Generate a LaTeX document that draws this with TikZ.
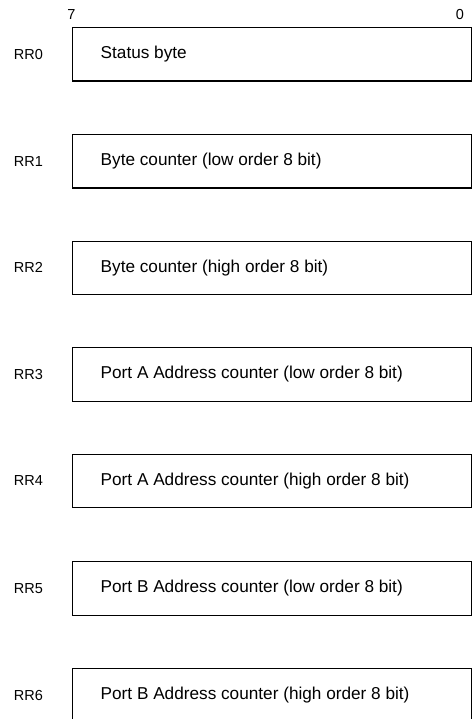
\documentclass[tikz,border=0pt]{standalone}
\usepackage{fontspec}
\setmainfont{Liberation Sans}
\begin{document}
\begin{tikzpicture}[x=1pt,y=-1pt,
  regbox/.style={draw=black,line width=1.2pt,rectangle,minimum width=399pt,minimum height=53.5pt,anchor=north west,inner sep=0pt},
  regtext/.style={anchor=west,inner sep=0pt,font=\fontsize{17.2}{20}\selectfont},
  reglabel/.style={anchor=center,inner sep=0pt,font=\fontsize{14.5}{16}\selectfont},
  bitlabel/.style={anchor=center,inner sep=0pt,font=\fontsize{14.5}{16}\selectfont}]
\clip (0,0) rectangle (472,719);
\fill[white] (0,0) rectangle (472,719);
\node[bitlabel] (b7) at (71.5,15) {7};
\node[bitlabel] (b0) at (460,15) {0};
\foreach \i/\t/\txt in {0/27/Status byte,
  1/134/Byte counter (low order 8 bit),
  2/240.5/Byte counter (high order 8 bit),
  3/347/Port A Address counter (low order 8 bit),
  4/453.5/Port A Address counter (high order 8 bit),
  5/561/Port B Address counter (low order 8 bit),
  6/668/Port B Address counter (high order 8 bit)}{
  \node[regbox] (r\i) at (71.5,\t) {};
  \node[regtext] (t\i) at ([xshift=29pt]r\i.west) {\txt};
  \node[reglabel] (l\i) at ([xshift=-43pt]r\i.west) {RR\i};
}
\end{tikzpicture}
\end{document}
